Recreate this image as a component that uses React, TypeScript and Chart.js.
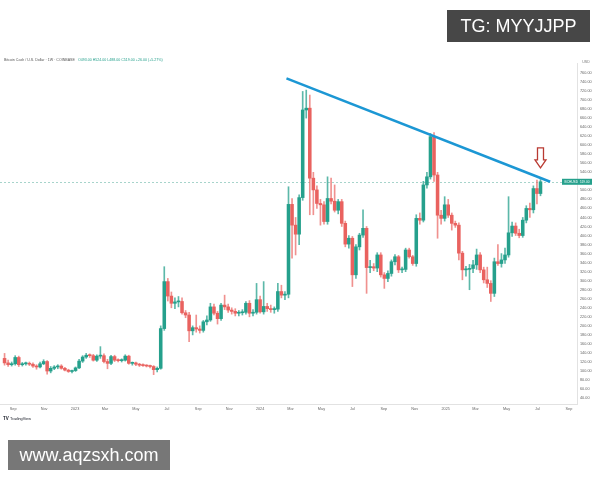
import React, { useEffect, useRef } from "react";
import { Chart, registerables } from "chart.js";
Chart.register(...registerables);

// ---- weekly candles (first week starts Monday 2022-08-15) ----
const firstWeek = "2022-08-15";
const opens = [
  128, 118, 114, 116, 130, 114, 116, 117, 115, 111, 109, 116, 121, 100, 106, 109, 111, 106, 102, 99,
  101, 107, 122, 131, 135, 134, 124, 133, 134, 121, 117, 132, 124, 123, 124, 133, 117, 118, 115, 113,
  112, 111, 110, 103, 106, 194, 298, 266, 250, 253, 254, 229, 224, 189, 196, 193, 190, 209, 213, 242,
  228, 216, 246, 242, 235, 232, 228, 229, 230, 250, 228, 230, 258, 231, 243, 238, 236, 237, 276, 268,
  270, 469, 423, 403, 484, 678, 682, 527, 501, 471, 468, 431, 482, 476, 456, 475, 427, 381, 394, 313,
  375, 401, 416, 329, 331, 328, 357, 313, 305, 316, 342, 353, 324, 325, 368, 353, 338, 438, 434, 512,
  530, 619, 534, 445, 438, 468, 445, 427, 423, 361, 324, 325, 327, 335, 357, 324, 302, 294, 272, 342,
  338, 346, 357, 406, 421, 405, 400, 434, 460, 457, 504, 493,
];
const highs = [
  139, 124, 120, 134, 133, 119, 120, 120, 118, 114, 120, 125, 123, 110, 112, 114, 114, 108, 104, 102,
  109, 126, 134, 139, 138, 137, 136, 154, 138, 126, 135, 135, 127, 127, 136, 135, 120, 120, 117, 116,
  114, 113, 112, 109, 200, 331, 305, 275, 262, 265, 262, 234, 230, 200, 224, 200, 212, 222, 250, 248,
  232, 250, 268, 248, 240, 238, 234, 236, 254, 256, 236, 294, 266, 298, 250, 246, 242, 294, 290, 276,
  508, 482, 440, 490, 719, 722, 711, 540, 510, 480, 475, 530, 527, 512, 480, 480, 432, 400, 398, 380,
  405, 457, 420, 345, 338, 362, 362, 318, 322, 346, 358, 356, 330, 372, 372, 356, 446, 450, 520, 540,
  626, 628, 540, 456, 486, 480, 450, 432, 428, 365, 332, 336, 345, 370, 362, 330, 330, 300, 350, 380,
  360, 372, 486, 430, 428, 414, 440, 466, 472, 510, 523, 524,
];
const lows = [
  113, 110, 111, 113, 110, 111, 113, 112, 108, 104, 107, 114, 93, 96, 103, 105, 104, 100, 97, 96,
  99, 105, 119, 128, 130, 122, 121, 128, 118, 105, 114, 121, 120, 120, 122, 115, 113, 112, 110, 110,
  109, 107, 92, 98, 104, 190, 255, 240, 238, 242, 226, 218, 165, 180, 186, 184, 186, 202, 210, 224,
  204, 212, 236, 230, 226, 222, 222, 224, 226, 220, 222, 226, 228, 226, 232, 230, 228, 232, 262, 258,
  262, 350, 357, 380, 478, 660, 446, 446, 460, 423, 425, 425, 470, 452, 448, 420, 375, 372, 287, 305,
  368, 396, 272, 318, 322, 320, 308, 283, 298, 310, 335, 318, 318, 320, 350, 334, 332, 425, 430, 505,
  525, 520, 394, 425, 432, 440, 412, 418, 346, 302, 310, 280, 318, 325, 318, 295, 285, 254, 265, 334,
  330, 338, 352, 398, 400, 395, 396, 428, 440, 450, 470, 488,
];
const closes = [
  118, 114, 116, 130, 114, 116, 117, 115, 111, 109, 116, 121, 100, 106, 109, 111, 106, 102, 99, 101,
  107, 122, 131, 135, 134, 124, 133, 134, 121, 117, 132, 124, 123, 124, 133, 117, 118, 115, 113, 112,
  111, 110, 103, 106, 194, 298, 266, 250, 253, 254, 229, 224, 189, 196, 193, 190, 209, 213, 242, 228,
  216, 246, 242, 235, 232, 228, 229, 230, 250, 228, 230, 258, 231, 243, 238, 236, 237, 276, 268, 270,
  469, 423, 403, 484, 678, 682, 527, 501, 471, 468, 431, 482, 476, 456, 475, 427, 381, 394, 313, 375,
  401, 416, 329, 331, 328, 357, 313, 305, 316, 342, 353, 324, 325, 368, 353, 338, 438, 434, 512, 530,
  619, 534, 445, 438, 468, 445, 427, 423, 361, 324, 325, 327, 335, 357, 324, 302, 294, 272, 342, 338,
  346, 357, 406, 421, 405, 400, 434, 460, 457, 504, 493, 519,
];

// ---- axes ----
const xTickDates = [
  "2022-09-01", "2022-11-01", "2023-01-01", "2023-03-01", "2023-05-01", "2023-07-01", "2023-09-01",
  "2023-11-01", "2024-01-01", "2024-03-01", "2024-05-01", "2024-07-01", "2024-09-01", "2024-11-01",
  "2025-01-01", "2025-03-01", "2025-05-01", "2025-07-01", "2025-09-01",
];
const xTickLabels = [
  "Sep", "Nov", "2023", "Mar", "May", "Jul", "Sep", "Nov", "2024", "Mar", "May", "Jul", "Sep", "Nov",
  "2025", "Mar", "May", "Jul", "Sep",
];
const yTickValues = [
  40, 60, 80, 100, 120, 140, 160, 180, 200, 220, 240, 260, 280, 300, 320, 340, 360, 380, 400, 420,
  440, 460, 480, 500, 520, 540, 560, 580, 600, 620, 640, 660, 680, 700, 720, 740, 760,
];
const viewStart = "2022-08-06";
const viewEnd = "2025-09-17";
const priceMin = 27;
const priceMax = 782;

// ---- drawings ----
const trendDates = ["2024-02-22", "2025-07-26"];
const trendPrices = [748, 519];
const arrowDate = "2025-07-07";
const arrowPrices = [594, 550];

const symbolTitle = "Bitcoin Cash / U.S. Dollar · 1W · COINBASE";
const symbolCode = "BCHUSD";
const currency = "USD";
const tgText = "TG: MYYJJPP";
const siteText = "www.aqzsxh.com";

const UP = "#25a08c";
const DOWN = "#e9625f";
const UP_WICK = "rgba(37,160,140,0.75)";
const DOWN_WICK = "rgba(233,98,95,0.7)";
const FONT = "'Liberation Sans', Arial, sans-serif";

const dayNum = (s: string) =>
  Date.UTC(+s.slice(0, 4), +s.slice(5, 7) - 1, +s.slice(8, 10)) / 86400000;

export default function App() {
  const ref = useRef<HTMLCanvasElement>(null);

  useEffect(() => {
    const base = dayNum(firstWeek);
    const xs = opens.map((_, i) => base + 7 * i);
    const colors = opens.map((o, i) => (closes[i] >= o ? UP : DOWN));
    const wickColors = opens.map((o, i) => (closes[i] >= o ? UP_WICK : DOWN_WICK));
    const n = closes.length;

    const overlay = {
      id: "overlay",
      beforeDatasetsDraw(chart: any) {
        const { ctx, chartArea, scales } = chart;
        const y = scales.y.getPixelForValue(closes[n - 1]);
        ctx.save();
        ctx.strokeStyle = "rgba(60,160,140,0.45)";
        ctx.lineWidth = 1;
        ctx.setLineDash([2, 2]);
        ctx.beginPath();
        ctx.moveTo(chartArea.left, Math.round(y) + 0.5);
        ctx.lineTo(chartArea.right, Math.round(y) + 0.5);
        ctx.stroke();
        ctx.restore();
      },
      afterDatasetsDraw(chart: any) {
        const { ctx, scales } = chart;
        const x = scales.x.getPixelForValue(dayNum(arrowDate));
        const yTop = scales.y.getPixelForValue(arrowPrices[0]);
        const yTip = scales.y.getPixelForValue(arrowPrices[1]);
        const head = (yTip - yTop) * 0.4;
        ctx.save();
        ctx.beginPath();
        ctx.moveTo(x - 3, yTop);
        ctx.lineTo(x + 3, yTop);
        ctx.lineTo(x + 3, yTip - head);
        ctx.lineTo(x + 5.5, yTip - head);
        ctx.lineTo(x, yTip);
        ctx.lineTo(x - 5.5, yTip - head);
        ctx.lineTo(x - 3, yTip - head);
        ctx.closePath();
        ctx.fillStyle = "#ffffff";
        ctx.fill();
        ctx.strokeStyle = "#b93a32";
        ctx.lineWidth = 1.3;
        ctx.stroke();
        ctx.restore();
      },
      afterDraw(chart: any) {
        const { ctx, scales, chartArea } = chart;
        ctx.save();
        ctx.textBaseline = "middle";
        ctx.font = `3.6px ${FONT}`;
        ctx.fillStyle = "#555";
        ctx.fillText(symbolTitle, 4, 60);
        const w = ctx.measureText(symbolTitle).width;
        const o = opens[n - 1], h = highs[n - 1], l = lows[n - 1], c = closes[n - 1];
        const ch = c - closes[n - 2];
        const vals = `O${o.toFixed(2)} H${h.toFixed(2)} L${l.toFixed(2)} C${c.toFixed(2)} +${ch.toFixed(2)} (+${((ch / closes[n - 2]) * 100).toFixed(2)}%)`;
        ctx.fillStyle = UP;
        ctx.fillText(vals, 4 + w + 3, 60);
        ctx.fillStyle = "#777";
        ctx.textAlign = "center";
        ctx.fillText(currency, 586, 62);
        const y = scales.y.getPixelForValue(c);
        ctx.fillStyle = UP;
        ctx.fillRect(chartArea.right - 15, y - 3, 30, 6);
        ctx.fillStyle = "#fff";
        ctx.font = `3.2px ${FONT}`;
        ctx.fillText(`${symbolCode}  ${c.toFixed(2)}`, chartArea.right, y + 0.2);
        ctx.textAlign = "left";
        ctx.fillStyle = "#131722";
        ctx.font = `bold 4.5px ${FONT}`;
        ctx.fillText("TV", 3, 419);
        ctx.font = `3.8px ${FONT}`;
        ctx.fillText("TradingView", 10, 419);
        ctx.restore();
      },
    };

    const chart = new Chart(ref.current as HTMLCanvasElement, {
      type: "bar",
      data: {
        datasets: [
          {
            type: "line",
            data: trendDates.map((d, i) => ({ x: dayNum(d), y: trendPrices[i] })),
            borderColor: "#1c97d4",
            borderWidth: 2.6,
            pointRadius: 0,
            order: 0,
          } as any,
          {
            data: xs.map((x, i) => ({ x, y: [opens[i], closes[i]] })),
            backgroundColor: colors,
            barThickness: 2.9,
            minBarLength: 1,
            grouped: false,
            order: 1,
          } as any,
          {
            data: xs.map((x, i) => ({ x, y: [lows[i], highs[i]] })),
            backgroundColor: wickColors,
            barThickness: 1,
            grouped: false,
            order: 2,
          } as any,
        ],
      },
      options: {
        responsive: false,
        devicePixelRatio: 1,
        animation: false,
        layout: { padding: { top: 63, bottom: 64, left: 0, right: 0 } },
        plugins: { legend: { display: false }, tooltip: { enabled: false } },
        scales: {
          x: {
            type: "linear",
            offset: false,
            min: dayNum(viewStart),
            max: dayNum(viewEnd),
            grid: { display: false, drawTicks: false, offset: false },
            border: { display: true, color: "#e2e2e2" },
            afterBuildTicks: (s: any) => {
              s.ticks = xTickDates.map((d) => ({ value: dayNum(d) }));
            },
            afterFit: (s: any) => {
              s.height = 12;
            },
            ticks: {
              autoSkip: false,
              maxRotation: 0,
              padding: 3,
              font: { size: 3.8, family: FONT },
              color: "#666",
              callback: (_v: any, i: number) => xTickLabels[i],
            },
          },
          y: {
            type: "linear",
            position: "right",
            min: priceMin,
            max: priceMax,
            grid: { display: false, drawTicks: false },
            border: { display: true, color: "#e2e2e2" },
            afterBuildTicks: (s: any) => {
              s.ticks = yTickValues.map((v) => ({ value: v }));
            },
            afterFit: (s: any) => {
              s.width = 23;
            },
            ticks: {
              autoSkip: false,
              padding: 3,
              font: { size: 3.8, family: FONT },
              color: "#666",
              callback: (v: any) => Number(v).toFixed(2),
            },
          },
        },
      } as any,
      plugins: [overlay],
    });
    return () => chart.destroy();
  }, []);

  return (
    <div
      style={{
        position: "fixed",
        left: 0,
        top: 0,
        width: 600,
        height: 480,
        background: "#ffffff",
        overflow: "hidden",
      }}
    >
      <canvas
        ref={ref}
        width={600}
        height={480}
        style={{ position: "absolute", left: 0, top: 0, width: 600, height: 480 }}
      />
      <div
        style={{
          position: "absolute",
          left: 447,
          top: 10,
          width: 143,
          height: 32,
          background: "rgba(45,45,45,0.88)",
          color: "#fff",
          fontFamily: FONT,
          fontSize: 18,
          lineHeight: "32px",
          textAlign: "center",
        }}
      >
        {tgText}
      </div>
      <div
        style={{
          position: "absolute",
          left: 8,
          top: 440,
          width: 162,
          height: 30,
          background: "rgba(95,95,95,0.85)",
          color: "#fff",
          fontFamily: FONT,
          fontSize: 18,
          lineHeight: "30px",
          textAlign: "center",
        }}
      >
        {siteText}
      </div>
    </div>
  );
}
